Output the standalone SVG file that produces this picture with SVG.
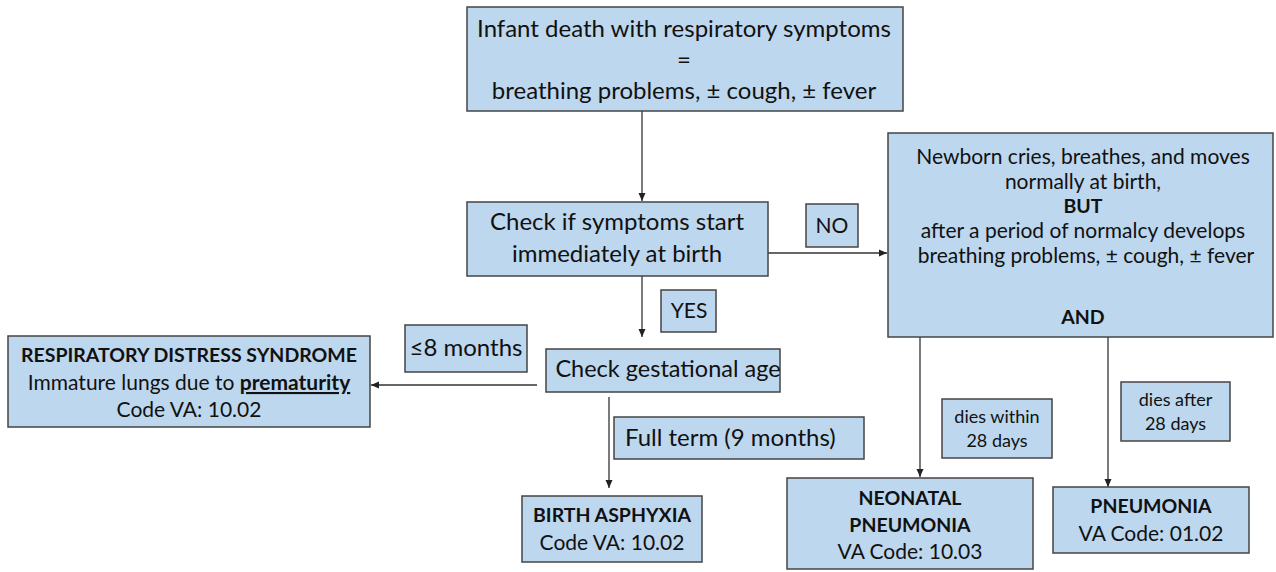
<svg xmlns="http://www.w3.org/2000/svg" width="1276" height="572" viewBox="0 0 1276 572">
<defs>
<marker id="arr" markerWidth="10" markerHeight="10" refX="9" refY="5" orient="auto" markerUnits="userSpaceOnUse">
<path d="M1,1.5 L9,5 L1,8.5 Z" fill="#222"/>
</marker>
<style>
.box{fill:#bdd7ee;stroke:#444;stroke-width:1.5}
.t{font-family:Lato,"Liberation Sans",sans-serif;fill:#111;text-anchor:middle}
.b{font-weight:bold}
.c{stroke:#333;stroke-width:1.3;fill:none;marker-end:url(#arr)}
</style>
</defs>
<rect width="1276" height="572" fill="#fff"/>
<g id="connectors">
<line class="c" x1="642" y1="111" x2="642" y2="201"/>
<line class="c" x1="768" y1="253" x2="887" y2="253"/>
<line class="c" x1="642" y1="276" x2="642" y2="337"/>
<line class="c" x1="537" y1="385" x2="371" y2="385"/>
<line class="c" x1="609" y1="397" x2="609" y2="488"/>
<line class="c" x1="920" y1="337" x2="920" y2="477"/>
<line class="c" x1="1108" y1="337" x2="1108" y2="487"/>
</g>
<g id="start">
<rect class="box" x="467" y="7" width="436" height="104"/>
<text class="t" x="684" y="37" font-size="24">Infant death with respiratory symptoms</text>
<text class="t" x="684" y="68" font-size="24">=</text>
<text class="t" x="684" y="99" font-size="24">breathing problems, ±  cough, ± fever</text>
</g>
<g id="check-birth">
<rect class="box" x="467" y="202" width="301" height="74"/>
<text class="t" x="617" y="230" font-size="24">Check if symptoms start</text>
<text class="t" x="617" y="262" font-size="24">immediately at birth</text>
</g>
<g id="no-label">
<rect class="box" x="806" y="204" width="52" height="43"/>
<text class="t" x="832" y="233" font-size="21">NO</text>
</g>
<g id="yes-label">
<rect class="box" x="661" y="290" width="55" height="42"/>
<text class="t" x="689" y="318" font-size="21">YES</text>
</g>
<g id="check-age">
<rect class="box" x="546" y="349" width="234" height="43"/>
<text class="t" x="668" y="377" font-size="23.5">Check gestational age</text>
</g>
<g id="le8-label">
<rect class="box" x="405" y="325" width="122" height="47"/>
<text class="t" x="466" y="356" font-size="24">≤8 months</text>
</g>
<g id="rds">
<rect class="box" x="8" y="336" width="362" height="91"/>
<text class="t b" x="189" y="362" font-size="19.5">RESPIRATORY DISTRESS SYNDROME</text>
<text class="t" x="189" y="390" font-size="21">Immature lungs due to <tspan font-weight="bold" text-decoration="underline">prematurity</tspan></text>
<text class="t" x="189" y="417" font-size="21">Code VA: 10.02</text>
</g>
<g id="fullterm-label">
<rect class="box" x="614" y="417" width="250" height="42"/>
<text class="t" x="625" y="446" font-size="24" style="text-anchor:start">Full term (9 months)</text>
</g>
<g id="birth-asphyxia">
<rect class="box" x="522" y="496" width="180" height="66"/>
<text class="t b" x="612" y="522" font-size="19.5">BIRTH ASPHYXIA</text>
<text class="t" x="612" y="550" font-size="21">Code VA: 10.02</text>
</g>
<g id="later-onset">
<rect class="box" x="888" y="133" width="385" height="204"/>
<text class="t" x="1083" y="164" font-size="21">Newborn cries, breathes, and moves</text>
<text class="t" x="1083" y="189" font-size="21">normally at birth,</text>
<text class="t b" x="1083" y="213" font-size="19.5">BUT</text>
<text class="t" x="1083" y="238" font-size="21">after a period of normalcy develops</text>
<text class="t" x="1086" y="263" font-size="21">breathing problems, ± cough, ± fever</text>
<text class="t b" x="1083" y="324" font-size="19.5">AND</text>
</g>
<g id="within-label">
<rect class="box" x="942" y="399" width="110" height="59"/>
<text class="t" x="997" y="423" font-size="18">dies within</text>
<text class="t" x="997" y="447" font-size="18">28 days</text>
</g>
<g id="after-label">
<rect class="box" x="1121" y="382" width="109" height="59"/>
<text class="t" x="1175.5" y="406" font-size="18">dies after</text>
<text class="t" x="1175.5" y="430" font-size="18">28 days</text>
</g>
<g id="neonatal-pneumonia">
<rect class="box" x="787" y="478" width="246" height="91"/>
<text class="t b" x="910" y="505" font-size="19.5">NEONATAL</text>
<text class="t b" x="910" y="532" font-size="19.5">PNEUMONIA</text>
<text class="t" x="910" y="559" font-size="21">VA Code: 10.03</text>
</g>
<g id="pneumonia">
<rect class="box" x="1053" y="487" width="196" height="66"/>
<text class="t b" x="1151" y="513" font-size="19.5">PNEUMONIA</text>
<text class="t" x="1151" y="541" font-size="21">VA Code: 01.02</text>
</g>
</svg>
